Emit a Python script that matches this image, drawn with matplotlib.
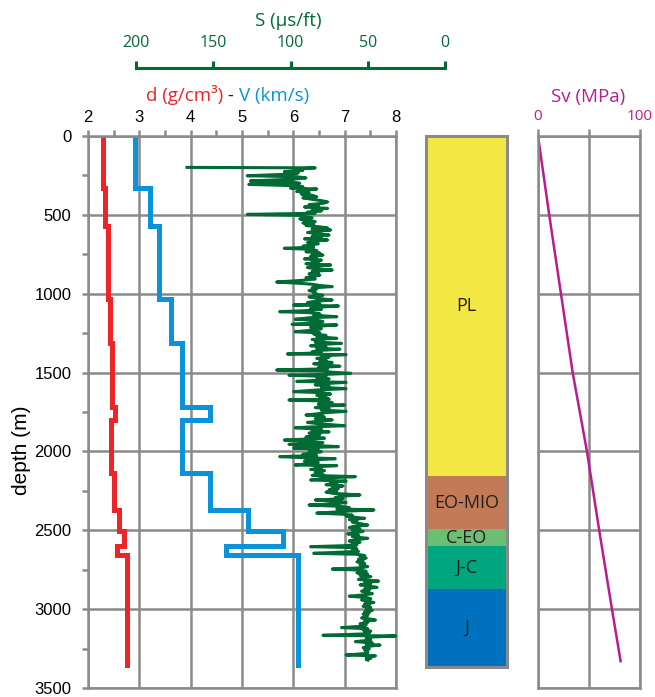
import numpy as np
import matplotlib
matplotlib.use("Agg")
import matplotlib.pyplot as plt
from matplotlib.patches import Rectangle
from matplotlib.ticker import MultipleLocator

# step logs: tops of the intervals (m), the last entry is the base of the log
step_depth = [0, 330, 571, 1036, 1310, 1720, 1800, 2135, 2372, 2503, 2598, 2657, 3355]
density = [2.29, 2.34, 2.38, 2.43, 2.47, 2.53, 2.44, 2.51, 2.61, 2.70, 2.56, 2.75]
velocity = [2.92, 3.21, 3.39, 3.61, 3.83, 4.37, 3.83, 4.37, 5.11, 5.80, 4.69, 6.10]

# sonic log (depth in m, slowness in us/ft)
sonic_depth = [
    199, 202, 210, 218, 226, 234, 242, 252, 258, 266, 274, 285, 292, 300, 307, 315, 322, 330,
    336, 344, 352, 360, 368, 376, 385, 392, 400, 410, 418, 427, 435, 443, 450, 459, 467, 475,
    483, 490, 497, 503, 510, 518, 526, 534, 543, 551, 560, 568, 576, 584, 590, 596, 604, 612,
    620, 628, 636, 644, 652, 659, 667, 675, 683, 691, 699, 705, 712, 718, 726, 734, 742, 750,
    755, 763, 771, 779, 787, 795, 803, 810, 818, 826, 834, 842, 850, 858, 866, 874, 882, 890,
    898, 906, 915, 926, 934, 940, 948, 955, 963, 970, 980, 990,
    1000, 1010, 1020, 1030, 1040, 1048, 1056, 1064, 1072, 1078, 1086, 1094, 1100, 1108, 1114,
    1120, 1128, 1136, 1146, 1152, 1162, 1168, 1176, 1185, 1194, 1198, 1206, 1214, 1222, 1230,
    1241, 1248, 1256, 1264, 1272, 1283, 1290, 1298, 1306, 1315, 1322, 1330, 1338, 1346, 1352,
    1360, 1368, 1375, 1382, 1386, 1394, 1402, 1410, 1420, 1428, 1436, 1444, 1452, 1460, 1468,
    1476, 1484, 1490, 1498, 1505,
    1512, 1517, 1524, 1532, 1540, 1548, 1556, 1562, 1570, 1578, 1586, 1594, 1602, 1610, 1621,
    1628, 1636, 1644, 1652, 1660, 1668, 1674, 1680, 1690, 1700, 1706, 1714, 1722, 1730, 1738,
    1746, 1754, 1762, 1769, 1776,
    1784, 1792, 1800, 1808, 1816, 1824, 1837, 1845, 1850, 1860, 1868, 1876, 1884, 1892, 1900,
    1908, 1916, 1928, 1936, 1944, 1955, 1962, 1970, 1978, 1986, 1994, 2002, 2010, 2018, 2026,
    2033, 2040, 2046, 2054, 2062, 2070, 2078, 2086, 2090, 2098, 2106, 2114, 2122, 2128, 2135,
    2145, 2152, 2160, 2168, 2181, 2188, 2195, 2203, 2211, 2219, 2227, 2235, 2243, 2250, 2258,
    2266, 2276, 2284, 2292, 2300, 2308, 2316, 2324, 2332, 2340, 2348, 2356, 2364, 2371, 2378,
    2386, 2391, 2398, 2404, 2410, 2418, 2424, 2432, 2440, 2448, 2456, 2467, 2475, 2483, 2491,
    2499, 2507, 2515, 2523, 2531, 2540, 2551, 2560, 2568, 2576, 2584, 2592, 2598, 2604, 2610,
    2618, 2626, 2634, 2646, 2652, 2660, 2668, 2676, 2684, 2692, 2700, 2710, 2720, 2730, 2738,
    2746, 2752, 2760, 2770, 2778, 2786, 2794, 2800, 2812, 2822, 2830, 2838, 2846, 2854, 2862,
    2870, 2878, 2886, 2894, 2902, 2910, 2918, 2926, 2934, 2942, 2950, 2958, 2966, 2974, 2982,
    2990, 3000, 3008, 3016, 3024, 3032, 3040, 3048, 3056, 3062, 3069, 3076, 3084, 3092, 3100,
    3108, 3117, 3124, 3132, 3140, 3148, 3156, 3166, 3170, 3178, 3186, 3196, 3206, 3214, 3222,
    3228, 3236, 3244, 3252, 3260, 3270, 3280, 3291, 3296, 3304, 3312, 3320, 3323,
]
sonic = [
    167, 84, 98, 92, 104, 95, 101, 128, 96, 90, 99, 126, 100, 94, 127, 97, 92, 100,
    83, 90, 96, 88, 93, 86, 83, 92, 87, 80, 76, 79, 88, 82, 91, 76, 86, 80,
    89, 84, 128, 95, 91, 86, 94, 88, 84, 92, 85, 90, 81, 76, 86, 74, 84, 89,
    81, 75, 86, 80, 91, 76, 85, 89, 82, 87, 92, 85, 104, 88, 83, 90, 81, 86,
    79, 87, 83, 91, 80, 86, 82, 90, 74, 85, 89, 83, 73, 86, 82, 88, 81, 85,
    90, 84, 92, 109, 94, 86, 81, 73, 86, 83, 88, 84,
    85, 79, 88, 82, 73, 84, 89, 81, 98, 69, 83, 87, 80, 91, 107,
    88, 81, 85, 70, 87, 97, 83, 79, 86, 99, 70, 82, 87, 80, 84,
    97, 81, 85, 77, 83, 70, 86, 79, 84, 67, 81, 87, 77, 83, 68,
    82, 86, 80, 102, 64, 80, 75, 83, 77, 81, 73, 85, 78, 68, 82,
    76, 109, 79, 73, 61,
    79, 101, 77, 83, 75, 81, 96, 64, 78, 84, 75, 80, 64, 82, 98,
    79, 74, 83, 77, 81, 75, 101, 79, 73, 82, 65, 78, 84, 75, 80,
    64, 77, 83, 90, 79,
    78, 84, 73, 81, 89, 82, 65, 87, 97, 80, 86, 75, 88, 81, 82,
    90, 78, 104, 87, 79, 101, 84, 69, 98, 82, 88, 80, 86, 92, 83,
    107, 90, 71, 86, 91, 82, 88, 97, 70, 84, 80, 87, 78, 82, 84,
    79, 86, 58, 76, 87, 64, 74, 70, 77, 66, 73, 69, 75, 70, 77,
    72, 55, 67, 71, 66, 84, 70, 64, 72, 88, 68, 62, 70, 46, 62,
    74, 83, 66, 60, 64, 58, 52, 62, 57, 60, 56, 50, 59, 62, 55,
    60, 53, 58, 63, 56, 60, 50, 58, 62, 55, 60, 57, 66, 87, 58,
    57, 60, 56, 85, 57, 52, 55, 51, 56, 53, 57, 52, 55, 50, 54,
    73, 55, 51, 57, 50, 55, 48, 53, 56, 43, 52, 48, 55, 49, 44,
    52, 49, 54, 50, 47, 53, 62, 51, 48, 54, 50, 46, 52, 49, 53,
    48, 51, 47, 52, 49, 53, 50, 51, 54, 49, 45, 52, 50, 55, 51,
    53, 67, 50, 53, 48, 52, 49, 79, 32, 50, 51, 48, 58, 47, 51,
    42, 50, 53, 49, 52, 50, 50, 64, 45, 51, 48, 51, 50,
]

# vertical stress
sv_depth = [0, 500, 1000, 1500, 2000, 2500, 3000, 3330]
sv = [0, 11, 22.5, 34, 48, 60, 72.5, 81]

# lithology column
units = ['PL', 'EO-MIO', 'C-EO', 'J-C', 'J']
unit_top = [0, 2156, 2492, 2600, 2873]
unit_base = [2156, 2492, 2600, 2873, 3367]
unit_colors = ['#F3E843', '#C27B56', '#6CBE74', '#00A77E', '#0071BF']

GREY = '#8A8A8A'
RED = '#EE2428'
BLUE = '#0A93D8'
GREEN = '#006B35'
MAGENTA = '#B81C8E'
W, H = 655, 697
TXT = 'Open Sans'
NUM = 'Liberation Sans'


def frac(x0, y0, x1, y1):
    """pixel box (top-left origin) -> figure fraction rect"""
    return [x0 / W, 1 - y1 / H, (x1 - x0) / W, (y1 - y0) / H]


def steps(bounds, vals):
    y = np.repeat(bounds, 2)[1:-1]
    x = np.repeat(vals, 2)
    return x, y


fig = plt.figure(figsize=(W / 100, H / 100), dpi=100)

# main log track
ax = fig.add_axes(frac(88, 136, 396, 688))
ax.set_xlim(2, 8)
ax.set_ylim(3500, 0)
ax.set_axisbelow(True)
ax.xaxis.tick_top()
ax.xaxis.set_major_locator(MultipleLocator(1))
ax.xaxis.set_minor_locator(MultipleLocator(0.5))
ax.yaxis.set_major_locator(MultipleLocator(500))
ax.yaxis.set_minor_locator(MultipleLocator(250))
ax.grid(True, which='major', color=GREY, lw=1.8)
ax.tick_params(which='both', color=GREY, width=1.8, length=4, direction='out',
               labelsize=12, pad=4)
ax.tick_params(axis='y', pad=8)
for lab in ax.get_xticklabels() + ax.get_yticklabels():
    lab.set_family(NUM)
for sp in ax.spines.values():
    sp.set_color(GREY)
    sp.set_linewidth(1.8)

x, y = steps(step_depth, density)
ax.plot(x, y, color=RED, lw=3.6, solid_joinstyle='miter')
x, y = steps(step_depth, velocity)
ax.plot(x, y, color=BLUE, lw=3.6, solid_joinstyle='miter')

fig.text(22 / W, 1 - 450 / H, 'depth (m)', rotation=90, ha='center', va='center',
         fontsize=15, family=NUM)

# sonic slowness, on its own scale
ax_s = fig.add_axes(frac(136, 136, 445, 688))
ax_s.set_xlim(200, 0)
ax_s.set_ylim(3500, 0)
ax_s.patch.set_visible(False)
for k in ['left', 'right', 'bottom']:
    ax_s.spines[k].set_visible(False)
ax_s.spines['top'].set_position(('outward', 68 * 0.72))
ax_s.spines['top'].set_color(GREEN)
ax_s.spines['top'].set_linewidth(2.2)
ax_s.set_yticks([])
ax_s.xaxis.tick_top()
ax_s.set_xticks([200, 150, 100, 50, 0])
ax_s.tick_params(axis='x', color=GREEN, width=2.2, length=5, labelcolor=GREEN,
                 labelsize=11.5, pad=7)
for lab in ax_s.get_xticklabels():
    lab.set_family(TXT)
ax_s.plot(sonic, sonic_depth, color=GREEN, lw=2.2)

fig.text(288 / W, 1 - 26 / H, 'S (\u03bcs/ft)', color=GREEN, ha='center', va='baseline',
         fontsize=13.5, family=TXT)

# two-coloured track title
t1 = fig.text(146 / W, 1 - 101 / H, 'd (g/cm\u00b3)', color=RED, va='baseline',
              fontsize=13.5, family=TXT)
t2 = ax.annotate(' - ', xy=(1, 0), xycoords=t1, va='bottom', ha='left',
                 fontsize=13.5, family=TXT, color='#231F20')
ax.annotate('V (km/s)', xy=(1, 0), xycoords=t2, va='bottom', ha='left',
            fontsize=13.5, family=TXT, color=BLUE)

# lithology column
ax_l = fig.add_axes(frac(426, 136, 507, 688))
ax_l.set_xlim(0, 1)
ax_l.set_ylim(3500, 0)
ax_l.axis('off')
for name, top, base, c in zip(units, unit_top, unit_base, unit_colors):
    ax_l.bar(0.5, base - top, bottom=top, width=1, color=c, lw=0)
    ax_l.text(0.5, (top + base) / 2, name, ha='center', va='center', fontsize=13,
              family=TXT, color='#231F20')
ax_l.add_patch(Rectangle((0, unit_top[0]), 1, unit_base[-1] - unit_top[0], fill=False,
                         edgecolor=GREY, lw=2.2, clip_on=False))

# vertical stress track
ax_v = fig.add_axes(frac(538, 136, 640, 688))
ax_v.set_xlim(0, 100)
ax_v.set_ylim(3500, 0)
ax_v.set_axisbelow(True)
ax_v.xaxis.tick_top()
ax_v.set_xticks([0, 50, 100])
ax_v.set_xticklabels(['0', '', '100'])
ax_v.yaxis.set_major_locator(MultipleLocator(500))
ax_v.grid(True, which='major', color=GREY, lw=1.8)
ax_v.tick_params(axis='x', color=GREY, width=1.8, length=5, labelcolor=MAGENTA,
                 labelsize=11, pad=4)
ax_v.tick_params(axis='y', length=0, labelleft=False)
for lab in ax_v.get_xticklabels():
    lab.set_family(TXT)
for sp in ax_v.spines.values():
    sp.set_color(GREY)
    sp.set_linewidth(1.8)
ax_v.plot(sv, sv_depth, color=MAGENTA, lw=1.8)

fig.text(588 / W, 1 - 102 / H, 'Sv (MPa)', color=MAGENTA, ha='center', va='baseline',
         fontsize=13.5, family=TXT)

fig.savefig('out.png', dpi=100)
